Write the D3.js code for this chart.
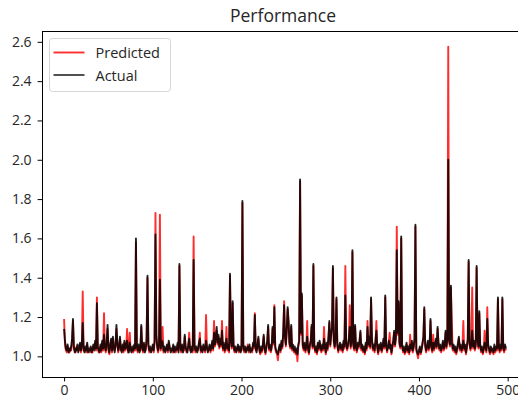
<!DOCTYPE html>
<html>
<head>
<meta charset="utf-8">
<script src="https://cdn.jsdelivr.net/npm/d3@7"></script>
<style>
  html, body { margin: 0; padding: 0; background: #fff; }
  svg { display: block; font-family: "Open Sans", sans-serif; }
</style>
</head>
<body>
<svg id="chart" width="518" height="407"></svg>
<script>
// Model output vs. observed value for each sample
const actual = [
  1.14,1.08,1.04,1.03,1.06,1.02,1.04,1.03,1.05,1.09,
  1.19,1.05,1.02,1.04,1.03,1.06,1.02,1.05,1.07,1.03,
  1.06,1.17,1.04,1.02,1.05,1.03,1.07,1.02,1.04,1.03,
  1.05,1.02,1.04,1.06,1.03,1.08,1.04,1.27,1.05,1.03,
  1.02,1.06,1.03,1.08,1.04,1.11,1.05,1.03,1.07,1.16,
  1.04,1.02,1.06,1.09,1.03,1.10,1.05,1.02,1.06,1.16,
  1.07,1.03,1.05,1.10,1.04,1.02,1.06,1.03,1.08,1.04,
  1.05,1.08,1.03,1.02,1.07,1.04,1.02,1.05,1.03,1.06,
  1.04,1.60,1.05,1.03,1.06,1.02,1.04,1.16,1.05,1.03,
  1.07,1.02,1.04,1.09,1.41,1.06,1.03,1.05,1.02,1.04,
  1.06,1.03,1.08,1.62,1.11,1.05,1.03,1.06,1.39,1.04,
  1.08,1.07,1.03,1.05,1.02,1.04,1.06,1.03,1.08,1.05,
  1.02,1.04,1.03,1.06,1.02,1.05,1.03,1.04,1.07,1.02,
  1.47,1.05,1.03,1.06,1.02,1.04,1.11,1.05,1.03,1.02,
  1.06,1.09,1.04,1.02,1.05,1.03,1.49,1.06,1.03,1.05,
  1.02,1.04,1.07,1.09,1.03,1.05,1.02,1.06,1.04,1.03,
  1.08,1.05,1.02,1.04,1.06,1.03,1.05,1.08,1.04,1.12,
  1.06,1.10,1.15,1.07,1.11,1.05,1.09,1.06,1.13,1.04,
  1.07,1.03,1.05,1.09,1.04,1.06,1.03,1.42,1.08,1.05,
  1.28,1.06,1.03,1.05,1.02,1.04,1.06,1.03,1.05,1.02,
  1.04,1.79,1.06,1.03,1.05,1.02,1.04,1.05,1.03,1.06,
  1.02,1.04,1.03,1.07,1.05,1.21,1.04,1.02,1.06,1.10,
  1.04,1.02,1.05,1.03,1.06,1.11,1.04,1.02,1.05,1.08,
  1.16,1.04,1.06,1.03,1.05,1.15,1.07,1.25,1.05,1.03,
  1.02,1.01,1.04,1.06,1.03,1.08,1.05,1.12,1.26,1.10,
  1.06,1.14,1.25,1.18,1.07,1.05,1.16,1.04,1.06,1.03,
  1.05,1.02,1.04,1.01,1.06,1.08,1.90,1.12,1.32,1.06,
  1.04,1.07,1.03,1.05,1.10,1.04,1.02,1.06,1.08,1.16,
  1.05,1.47,1.06,1.03,1.05,1.02,1.07,1.04,1.08,1.05,
  1.03,1.06,1.04,1.09,1.05,1.02,1.07,1.04,1.10,1.18,
  1.06,1.11,1.15,1.46,1.08,1.05,1.09,1.30,1.06,1.03,
  1.05,1.07,1.04,1.06,1.03,1.08,1.05,1.31,1.07,1.04,
  1.06,1.09,1.15,1.05,1.08,1.54,1.06,1.04,1.16,1.05,
  1.03,1.07,1.05,1.08,1.13,1.04,1.06,1.03,1.05,1.02,
  1.07,1.04,1.15,1.06,1.10,1.05,1.30,1.09,1.04,1.06,
  1.03,1.08,1.13,1.05,1.02,1.06,1.04,1.07,1.03,1.05,
  1.09,1.05,1.31,1.06,1.03,1.05,1.08,1.04,1.06,1.02,
  1.05,1.08,1.13,1.06,1.10,1.54,1.12,1.28,1.07,1.05,
  1.61,1.06,1.03,1.05,1.02,1.04,1.07,1.03,1.05,1.02,
  1.06,1.04,1.08,1.03,1.05,1.09,1.67,1.04,1.02,1.01,
  1.03,1.05,1.02,1.04,1.07,1.10,1.25,1.06,1.03,1.05,
  1.08,1.04,1.06,1.19,1.05,1.03,1.07,1.04,1.06,1.09,
  1.05,1.15,1.07,1.04,1.06,1.03,1.05,1.08,1.04,1.06,
  1.13,1.05,1.09,2.00,1.08,1.06,1.36,1.07,1.04,1.06,
  1.03,1.05,1.02,1.04,1.07,1.10,1.04,1.06,1.03,1.05,
  1.08,1.04,1.06,1.02,1.05,1.09,1.49,1.07,1.04,1.06,
  1.13,1.05,1.08,1.04,1.06,1.46,1.09,1.05,1.23,1.06,
  1.03,1.05,1.02,1.04,1.07,1.05,1.03,1.19,1.06,1.04,
  1.02,1.05,1.03,1.04,1.02,1.06,1.03,1.05,1.04,1.30,
  1.05,1.03,1.06,1.04,1.30,1.05,1.03,1.06,1.04
];

const predicted = [
  1.19,1.06,1.03,1.02,1.05,1.03,1.02,1.04,1.03,1.07,
  1.18,1.04,1.03,1.02,1.05,1.04,1.03,1.03,1.06,1.02,
  1.05,1.33,1.03,1.03,1.04,1.02,1.06,1.03,1.03,1.02,
  1.04,1.03,1.02,1.05,1.04,1.07,1.03,1.30,1.04,1.02,
  1.03,1.05,1.02,1.07,1.03,1.22,1.04,1.02,1.06,1.14,
  1.03,1.01,1.05,1.08,1.02,1.09,1.04,1.03,1.05,1.14,
  1.06,1.02,1.04,1.09,1.03,1.03,1.05,1.02,1.07,1.03,
  1.04,1.14,1.02,1.03,1.12,1.03,1.03,1.04,1.02,1.05,
  1.03,1.58,1.04,1.02,1.05,1.03,1.03,1.15,1.04,1.02,
  1.06,1.03,1.03,1.08,1.40,1.05,1.02,1.04,1.03,1.03,
  1.05,1.02,1.07,1.73,1.10,1.04,1.02,1.05,1.72,1.03,
  1.07,1.15,1.02,1.04,1.03,1.03,1.05,1.02,1.07,1.04,
  1.03,1.03,1.02,1.05,1.03,1.04,1.02,1.03,1.06,1.03,
  1.46,1.04,1.02,1.05,1.03,1.03,1.10,1.04,1.02,1.03,
  1.05,1.12,1.03,1.03,1.04,1.02,1.61,1.05,1.02,1.04,
  1.03,1.03,1.06,1.12,1.02,1.04,1.03,1.05,1.03,1.02,
  1.21,1.04,1.03,1.03,1.05,1.02,1.04,1.07,1.03,1.18,
  1.05,1.09,1.13,1.06,1.10,1.04,1.08,1.05,1.18,1.03,
  1.06,1.02,1.04,1.15,1.03,1.05,1.02,1.41,1.07,1.04,
  1.27,1.05,1.02,1.04,1.03,1.03,1.05,1.02,1.04,1.03,
  1.03,1.78,1.05,1.02,1.04,1.03,1.03,1.06,1.02,1.05,
  1.03,1.03,1.02,1.06,1.04,1.22,1.03,1.03,1.05,1.09,
  1.03,1.01,1.04,1.02,1.05,1.10,1.03,1.01,1.04,1.07,
  1.15,1.03,1.05,1.02,1.04,1.14,1.06,1.26,1.04,1.02,
  1.01,0.98,1.03,1.05,1.02,1.07,1.04,1.11,1.28,1.09,
  1.05,1.13,1.24,1.17,1.06,1.04,1.15,1.03,1.05,1.02,
  1.04,1.01,1.03,0.975,1.05,1.07,1.89,1.11,1.31,1.05,
  1.03,1.06,1.02,1.04,1.18,1.03,1.01,1.05,1.07,1.15,
  1.04,1.46,1.05,1.02,1.04,1.01,1.06,1.03,1.07,1.04,
  1.02,1.05,1.03,1.15,1.04,1.01,1.06,1.03,1.09,1.17,
  1.05,1.10,1.14,1.45,1.07,1.04,1.08,1.29,1.05,1.02,
  1.04,1.06,1.03,1.05,1.02,1.07,1.04,1.46,1.06,1.03,
  1.05,1.08,1.26,1.04,1.07,1.53,1.05,1.03,1.15,1.04,
  1.02,1.06,1.04,1.07,1.12,1.03,1.05,1.02,1.04,1.01,
  1.06,1.03,1.18,1.05,1.09,1.04,1.29,1.08,1.03,1.05,
  1.02,1.07,1.18,1.04,1.01,1.05,1.03,1.06,1.02,1.04,
  1.08,1.04,1.30,1.05,1.02,1.04,1.07,1.12,1.05,1.01,
  1.04,1.07,1.12,1.05,1.09,1.66,1.11,1.27,1.06,1.04,
  1.60,1.05,1.02,1.04,1.01,1.03,1.06,1.02,1.04,1.01,
  1.11,1.03,1.07,1.02,1.04,1.08,1.66,1.03,1.01,0.99,
  1.02,1.04,1.01,1.03,1.06,1.09,1.24,1.05,1.02,1.04,
  1.07,1.03,1.05,1.18,1.04,1.02,1.11,1.03,1.05,1.08,
  1.04,1.14,1.06,1.03,1.05,1.02,1.04,1.07,1.03,1.05,
  1.12,1.04,1.08,2.575,1.07,1.05,1.35,1.17,1.03,1.05,
  1.02,1.04,1.01,1.03,1.06,1.09,1.03,1.05,1.02,1.04,
  1.18,1.03,1.05,1.01,1.04,1.08,1.48,1.06,1.03,1.05,
  1.35,1.04,1.07,1.03,1.05,1.45,1.08,1.04,1.22,1.05,
  1.02,1.04,1.01,1.03,1.13,1.04,1.02,1.25,1.05,1.03,
  1.01,1.04,1.02,1.03,1.01,1.05,1.02,1.04,1.03,1.29,
  1.04,1.02,1.05,1.03,1.29,1.04,1.02,1.05,1.03
];

const xTicks = [0, 100, 200, 300, 400, 500];
const yTicks = [1.0, 1.2, 1.4, 1.6, 1.8, 2.0, 2.2, 2.4, 2.6];
const seriesNames = ["Predicted", "Actual"];
const seriesColors = ["#ff0000", "#000000"];
const seriesAlpha = [0.82, 0.72];

const svg = d3.select("#chart");
const plot = { left: 42, top: 31, right: 528, bottom: 377 };
const textColor = "#262626";

// Axis limits padded by 5% of the data span on each side
const n = actual.length;
const xSpan = n - 1;
const x = d3.scaleLinear()
  .domain([-0.05 * xSpan, xSpan * 1.05])
  .range([plot.left, plot.right]);

const all = actual.concat(predicted);
const yMin = d3.min(all), yMax = d3.max(all);
const yPad = (yMax - yMin) * 0.05;
const y = d3.scaleLinear()
  .domain([yMin - yPad, yMax + yPad])
  .range([plot.bottom, plot.top]);

const line = d3.line()
  .x((d, i) => x(i))
  .y(d => y(d));

svg.append("clipPath").attr("id", "plotClip")
  .append("rect")
  .attr("x", plot.left).attr("y", plot.top)
  .attr("width", plot.right - plot.left).attr("height", plot.bottom - plot.top);

const lines = svg.append("g").attr("clip-path", "url(#plotClip)");
[predicted, actual].forEach((series, k) => {
  lines.append("path")
    .datum(series)
    .attr("d", line)
    .attr("fill", "none")
    .attr("stroke", seriesColors[k])
    .attr("stroke-opacity", k === 1 ? 0.85 : seriesAlpha[k])
    .attr("stroke-width", 1.9)
    .attr("stroke-linejoin", "round");
});

// Axes
const xAxis = d3.axisBottom(x).tickValues(xTicks).tickSize(4.4).tickPadding(4)
  .tickFormat(d3.format("d"));
const yAxis = d3.axisLeft(y).tickValues(yTicks).tickSize(4.4).tickPadding(6)
  .tickFormat(d3.format(".1f"));

const gx = svg.append("g").attr("transform", `translate(0,${plot.bottom})`).call(xAxis);
const gy = svg.append("g").attr("transform", `translate(${plot.left},0)`).call(yAxis);
[gx, gy].forEach(g => {
  g.select(".domain").remove();
  g.selectAll("text").attr("font-size", 14).attr("fill", textColor)
    .attr("font-family", "Open Sans, sans-serif");
  g.selectAll("line").attr("stroke", "#000").attr("stroke-width", 1);
});

// Frame
svg.append("rect")
  .attr("x", plot.left).attr("y", plot.top)
  .attr("width", plot.right - plot.left).attr("height", plot.bottom - plot.top)
  .attr("fill", "none").attr("stroke", "#000").attr("stroke-width", 1)
  .attr("shape-rendering", "crispEdges");

// Title
svg.append("text")
  .attr("x", 283).attr("y", 21.5)
  .attr("text-anchor", "middle")
  .attr("font-size", 17.5).attr("fill", textColor)
  .text("Performance");

// Legend
const legend = svg.append("g");
legend.append("rect")
  .attr("x", 49.5).attr("y", 38.5).attr("width", 121).attr("height", 53)
  .attr("rx", 3).attr("fill", "#fff").attr("fill-opacity", 0.8)
  .attr("stroke", "#d6d6d6").attr("stroke-width", 1);
seriesNames.forEach((name, k) => {
  const cy = 52.5 + k * 22.5;
  legend.append("line")
    .attr("x1", 53.5).attr("x2", 84.5).attr("y1", cy).attr("y2", cy)
    .attr("stroke", seriesColors[k]).attr("stroke-opacity", seriesAlpha[k]).attr("stroke-width", 1.9);
  legend.append("text")
    .attr("x", 95.5).attr("y", cy + 5.5)
    .attr("font-size", 14.5).attr("fill", textColor)
    .text(name);
});
</script>
</body>
</html>
